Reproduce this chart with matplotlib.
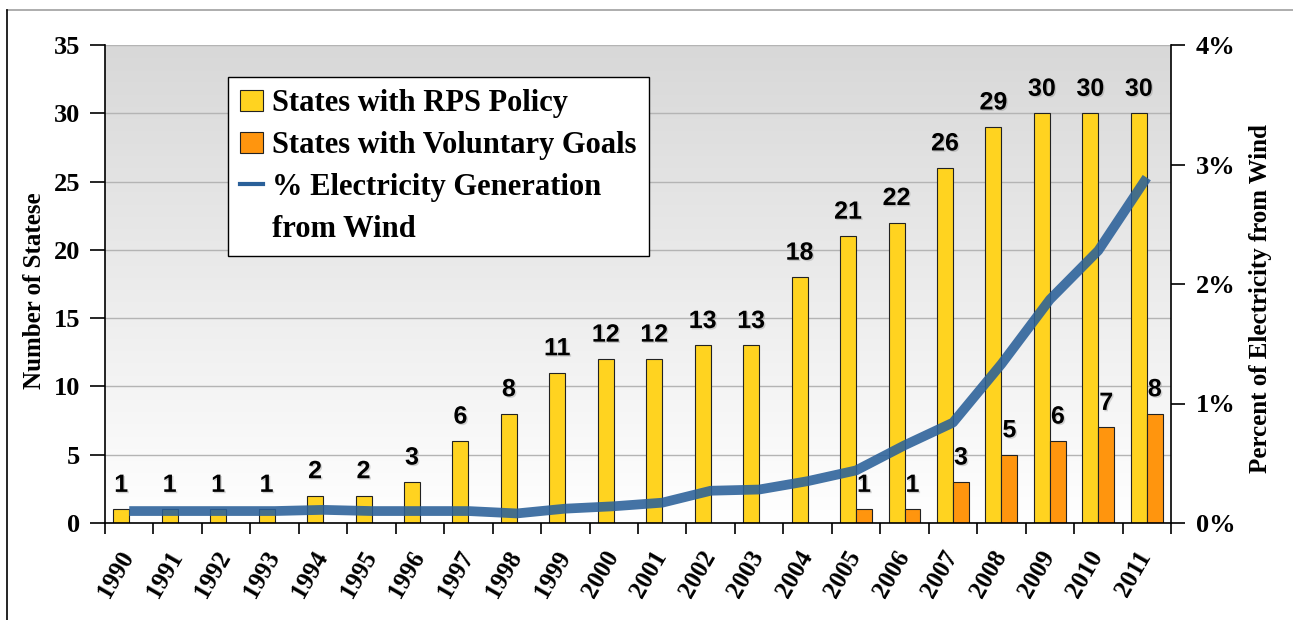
import numpy as np
import matplotlib
matplotlib.use("Agg")
import matplotlib.pyplot as plt
from matplotlib.patches import Patch
from matplotlib.lines import Line2D
from matplotlib.colors import LinearSegmentedColormap
from matplotlib.transforms import ScaledTranslation
import matplotlib.patheffects as pe

years = [str(y) for y in range(1990, 2012)]
rps = [1, 1, 1, 1, 2, 2, 3, 6, 8, 11, 12, 12, 13, 13, 18, 21, 22, 26, 29, 30, 30, 30]
voluntary = [0, 0, 0, 0, 0, 0, 0, 0, 0, 0, 0, 0, 0, 0, 0, 1, 1, 3, 5, 6, 7, 8]
wind_pct = [0.10, 0.10, 0.10, 0.10, 0.11, 0.10, 0.10, 0.10, 0.08, 0.12, 0.14, 0.17,
            0.27, 0.28, 0.35, 0.44, 0.65, 0.84, 1.33, 1.87, 2.28, 2.89]
left_ticks = [0, 5, 10, 15, 20, 25, 30, 35]
right_ticks = [0, 1, 2, 3, 4]

SERIF = "Liberation Serif"
SANS = "Liberation Sans"
YEL = "#FFD320"
ORG = "#FF950E"
BLUE = "#2A6099"

fig = plt.figure(figsize=(12.93, 6.2), dpi=100)
W, H = 1293, 620
ax = fig.add_axes([105 / W, 1 - 523 / H, (1171 - 105) / W, (523 - 45) / H])

x = np.arange(len(years))
bw = 0.33

# gradient background
cmap = LinearSegmentedColormap.from_list("g", ["#ffffff", "#d8d8d8"])
grad = np.linspace(0, 1, 256).reshape(-1, 1)
ax.imshow(grad, extent=[-0.5, len(years) - 0.5, 0, 35], origin="lower",
          cmap=cmap, aspect="auto", zorder=0)

ax.set_axisbelow(True)
ax.yaxis.grid(True, color="#b4b4b4", linewidth=1.0)

ax.bar(x - bw / 2, rps, bw, color=YEL, edgecolor="#222222", linewidth=0.8, zorder=2)
vx = [xi + bw / 2 for xi, v in zip(x, voluntary) if v > 0]
vv = [v for v in voluntary if v > 0]
ax.bar(vx, vv, bw, color=ORG, edgecolor="#222222", linewidth=0.8, zorder=2)

shadow = [pe.withSimplePatchShadow(offset=(1, -1), shadow_rgbFace="#888888", alpha=0.35)]
for xi, v in zip(x, rps):
    ax.annotate(str(v), (xi - bw / 2, v), xytext=(0, 9), textcoords="offset points",
                ha="center", va="bottom", fontsize=18, fontweight="bold",
                family=SANS, zorder=5, path_effects=shadow)
for xi, v in zip(vx, vv):
    ax.annotate(str(v), (xi, v), xytext=(0, 9), textcoords="offset points",
                ha="center", va="bottom", fontsize=18, fontweight="bold",
                family=SANS, zorder=5, path_effects=shadow)

ax.set_xlim(-0.5, len(years) - 0.5)
ax.set_ylim(0, 35)
ax.set_yticks(left_ticks)
ax.set_yticklabels([str(t) for t in left_ticks], family=SERIF, fontweight="bold", fontsize=19)
ax.set_xticks(x)
ax.set_xticklabels([])
ax.tick_params(axis="x", which="major", length=0)
ax.set_xticks(np.arange(-0.5, len(years), 1), minor=True)
ax.tick_params(axis="x", which="minor", length=8, width=1.2, direction="out")
ax.tick_params(axis="y", length=11, width=1.2, direction="out", pad=7)
ax.spines["top"].set_visible(False)
ax.spines["right"].set_visible(False)
for s in ["left", "bottom"]:
    ax.spines[s].set_linewidth(1.2)

# rotated year labels
off = ScaledTranslation(-13 / 100, -51 / 100, fig.dpi_scale_trans)
for xi, yr in zip(x, years):
    ax.text(xi, 0, yr, transform=ax.get_xaxis_transform() + off, rotation=60,
            ha="center", va="center", family=SERIF, fontweight="bold", fontsize=18,
            clip_on=False)

fig.text(35 / W, 1 - 291 / H, "Number of Statese", rotation=90, ha="center", va="center",
         family=SERIF, fontweight="bold", fontsize=18)

ax2 = ax.twinx()
ax2.plot(x, wind_pct, color=BLUE, linewidth=7, alpha=0.88, solid_capstyle="butt", zorder=3)
ax2.set_ylim(0, 4)
ax2.set_yticks(right_ticks)
ax2.set_yticklabels([f"{t}%" for t in right_ticks], family=SERIF, fontweight="bold", fontsize=19)
ax2.tick_params(axis="y", length=10, width=1.2, direction="out", pad=8)
ax2.spines["top"].set_visible(False)
ax2.spines["left"].set_visible(False)
ax2.spines["bottom"].set_visible(False)
ax2.spines["right"].set_linewidth(1.2)
fig.text(1261 / W, 1 - 299 / H, "Percent of Electricity from Wind", rotation=90,
         ha="center", va="center", family=SERIF, fontweight="bold", fontsize=18)

handles = [Patch(facecolor=YEL, edgecolor="#222222", linewidth=0.8),
           Patch(facecolor=ORG, edgecolor="#222222", linewidth=0.8),
           Line2D([0], [0], color=BLUE, linewidth=3),
           Line2D([0], [0], color="none", linewidth=0)]
labels = ["States with RPS Policy", "States with Voluntary Goals",
          "% Electricity Generation", "from Wind"]
leg = ax2.legend(handles, labels, loc="upper left",
                 bbox_to_anchor=(228 / W, 1 - 77 / H), bbox_transform=fig.transFigure,
                 borderaxespad=0,
                 prop={"family": SERIF, "weight": "bold", "size": 22},
                 frameon=True, fancybox=False, edgecolor="black", framealpha=1,
                 handlelength=0.75, handleheight=0.7, handletextpad=0.3,
                 borderpad=0.4, labelspacing=0.42)
leg.get_frame().set_linewidth(1.0)
leg.set_zorder(10)

# outer frame lines
fig.add_artist(Line2D([7 / W, 1], [1 - 10 / H, 1 - 10 / H], color="#a0a0a0", linewidth=1.2))
fig.add_artist(Line2D([7 / W, 7 / W], [0, 1 - 10 / H], color="black", linewidth=1.2))

fig.savefig("out.png", dpi=100)
